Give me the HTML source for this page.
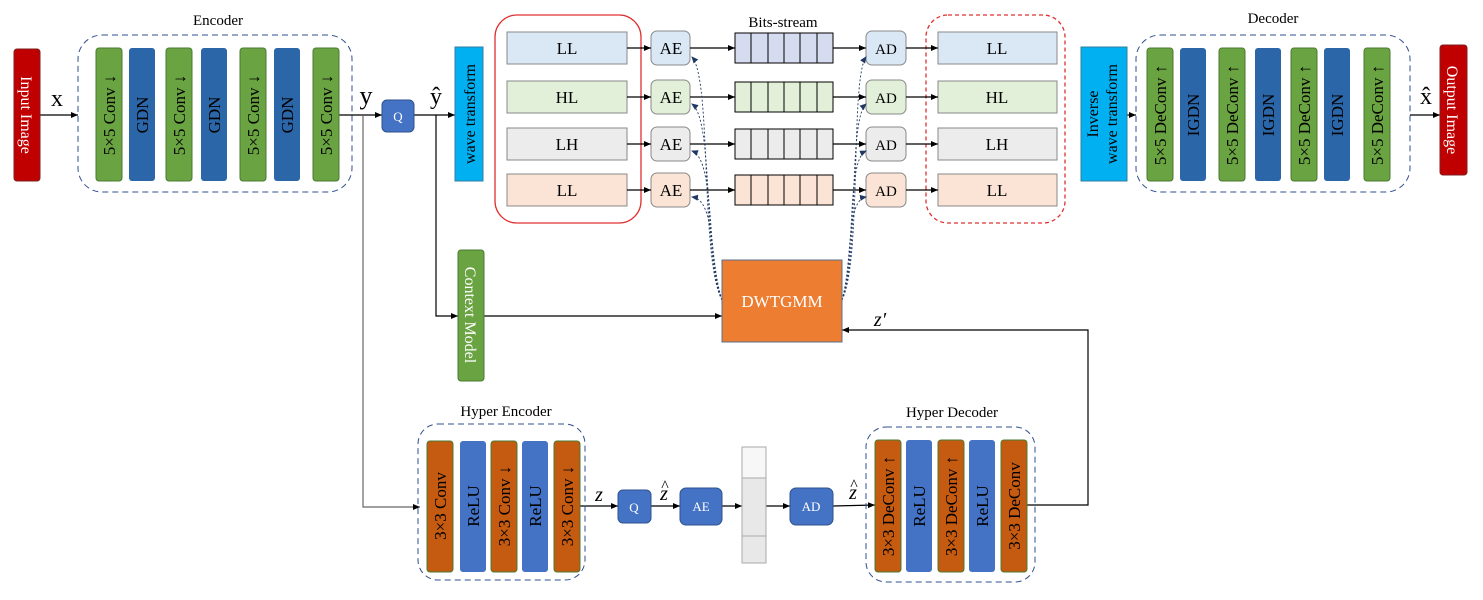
<!DOCTYPE html>
<html><head><meta charset="utf-8"><style>body{margin:0;background:#fff}svg{display:block}text{font-family:"Liberation Serif",serif}</style></head><body>
<svg width="1483" height="600" viewBox="0 0 1483 600" xmlns="http://www.w3.org/2000/svg">
<defs><marker id="a" markerWidth="8" markerHeight="8" refX="7" refY="4" orient="auto" markerUnits="userSpaceOnUse"><path d="M0,1 L7,4 L0,7 z" fill="#000"/></marker>
<marker id="b" markerWidth="8" markerHeight="8" refX="6" refY="4" orient="auto" markerUnits="userSpaceOnUse"><path d="M0,1 L7,4 L0,7 z" fill="#1f3864"/></marker></defs>
<g stroke="#000" stroke-width="1.2" fill="none">
<line x1="40" y1="115" x2="78" y2="115" marker-end="url(#a)"/>
<line x1="339" y1="115" x2="382" y2="115" marker-end="url(#a)"/>
<line x1="414" y1="115" x2="455" y2="115" marker-end="url(#a)"/>
<polyline points="363,115 363,507 420,507" stroke="#666" marker-end="url(#a)"/>
<polyline points="436,115 436,316 458,316" marker-end="url(#a)"/>
<line x1="484" y1="316" x2="722" y2="316" marker-end="url(#a)"/>
<polyline points="1027,505 1088,505 1088,330 842,330" marker-end="url(#a)"/>
<line x1="1127" y1="115" x2="1136" y2="115" marker-end="url(#a)"/>
<line x1="1410" y1="115" x2="1440" y2="115" marker-end="url(#a)"/>
<line x1="580" y1="506" x2="618" y2="506" marker-end="url(#a)"/>
<line x1="651" y1="506" x2="680" y2="506" marker-end="url(#a)"/>
<line x1="722" y1="506" x2="742" y2="506" marker-end="url(#a)"/>
<line x1="766" y1="506" x2="790" y2="506" marker-end="url(#a)"/>
<line x1="833" y1="506" x2="875" y2="505" marker-end="url(#a)"/>
</g>
<rect x="14" y="49" width="26" height="132" rx="3" fill="#c00000" stroke="#7f2020"/>
<text transform="translate(21,115) rotate(90)" text-anchor="middle" font-size="16" fill="#fff">Input Image</text>
<text x="57" y="106" font-size="24" text-anchor="middle">x</text>
<rect x="78" y="35" width="274" height="157" rx="24" fill="none" stroke="#2f4f8f" stroke-dasharray="6,4"/>
<text x="218" y="25" font-size="15" text-anchor="middle">Encoder</text>
<g font-size="17" text-anchor="middle">
<rect x="96" y="48" width="26" height="133" rx="3" fill="#6aa341" stroke="#4a7a30"/><text transform="translate(115,115) rotate(-90)">5×5 Conv ↓</text>
<rect x="129" y="48" width="26" height="133" rx="3" fill="#2b66a8"/><text transform="translate(148,115) rotate(-90)">GDN</text>
<rect x="166" y="48" width="26" height="133" rx="3" fill="#6aa341" stroke="#4a7a30"/><text transform="translate(185,115) rotate(-90)">5×5 Conv ↓</text>
<rect x="201" y="48" width="26" height="133" rx="3" fill="#2b66a8"/><text transform="translate(220,115) rotate(-90)">GDN</text>
<rect x="240" y="48" width="26" height="133" rx="3" fill="#6aa341" stroke="#4a7a30"/><text transform="translate(259,115) rotate(-90)">5×5 Conv ↓</text>
<rect x="274" y="48" width="26" height="133" rx="3" fill="#2b66a8"/><text transform="translate(293,115) rotate(-90)">GDN</text>
<rect x="313" y="48" width="26" height="133" rx="3" fill="#6aa341" stroke="#4a7a30"/><text transform="translate(332,115) rotate(-90)">5×5 Conv ↓</text>
</g>
<text x="366" y="104" font-size="26" text-anchor="middle">y</text>
<rect x="382" y="100" width="32" height="32" rx="5" fill="#4472c4" stroke="#2f528f"/><text x="398" y="121" font-size="13" fill="#fff" text-anchor="middle">Q</text>
<text x="436" y="104" font-size="24" text-anchor="middle">ŷ</text>
<rect x="455" y="47" width="28" height="134" fill="#00b0f0" stroke="#2f7fa0"/><text transform="translate(475,114) rotate(-90)" font-size="16" text-anchor="middle">wave transform</text>
<rect x="495" y="15" width="146" height="208" rx="22" fill="none" stroke="#e03030" stroke-width="1.3"/>
<rect x="926" y="15" width="139" height="208" rx="22" fill="none" stroke="#e03030" stroke-width="1.3" stroke-dasharray="4,3"/>
<text x="783" y="27" font-size="15" text-anchor="middle">Bits-stream</text>
<g font-size="17" text-anchor="middle" stroke-width="1">
<g><rect x="507" y="32" width="120" height="32" fill="#dae8f6" stroke="#888"/><text x="567" y="54">LL</text>
<rect x="651" y="31" width="39" height="34" rx="6" fill="#dae8f6" stroke="#888"/><text x="671" y="54">AE</text>
<rect x="735" y="33" width="98" height="30" fill="#d5dcef" stroke="#000"/>
<rect x="866" y="31" width="40" height="34" rx="6" fill="#dae8f6" stroke="#888"/><text x="886" y="54" font-size="15">AD</text>
<rect x="938" y="32" width="119" height="32" fill="#dae8f6" stroke="#888"/><text x="997" y="54">LL</text></g>
<g><rect x="507" y="81" width="120" height="32" fill="#e2f0d9" stroke="#888"/><text x="567" y="103">HL</text>
<rect x="651" y="80" width="39" height="34" rx="6" fill="#e2f0d9" stroke="#888"/><text x="671" y="103">AE</text>
<rect x="735" y="82" width="98" height="30" fill="#e2f0d9" stroke="#000"/>
<rect x="866" y="80" width="40" height="34" rx="6" fill="#e2f0d9" stroke="#888"/><text x="886" y="103" font-size="15">AD</text>
<rect x="938" y="81" width="119" height="32" fill="#e2f0d9" stroke="#888"/><text x="997" y="103">HL</text></g>
<g><rect x="507" y="128" width="120" height="32" fill="#ececec" stroke="#888"/><text x="567" y="150">LH</text>
<rect x="651" y="127" width="39" height="34" rx="6" fill="#ececec" stroke="#888"/><text x="671" y="150">AE</text>
<rect x="735" y="129" width="98" height="30" fill="#ececec" stroke="#000"/>
<rect x="866" y="127" width="40" height="34" rx="6" fill="#ececec" stroke="#888"/><text x="886" y="150" font-size="15">AD</text>
<rect x="938" y="128" width="119" height="32" fill="#ececec" stroke="#888"/><text x="997" y="150">LH</text></g>
<g><rect x="507" y="174" width="120" height="32" fill="#fbe4d5" stroke="#888"/><text x="567" y="196">LL</text>
<rect x="651" y="173" width="39" height="34" rx="6" fill="#fbe4d5" stroke="#888"/><text x="671" y="196">AE</text>
<rect x="735" y="175" width="98" height="30" fill="#fbe4d5" stroke="#000"/>
<rect x="866" y="173" width="40" height="34" rx="6" fill="#fbe4d5" stroke="#888"/><text x="886" y="196" font-size="15">AD</text>
<rect x="938" y="174" width="119" height="32" fill="#fbe4d5" stroke="#888"/><text x="997" y="196">LL</text></g>
</g>
<g stroke="#000" stroke-width="1">
<path d="M751,33V63M768,33V63M784,33V63M800,33V63M817,33V63M751,82V112M768,82V112M784,82V112M800,82V112M817,82V112M751,129V159M768,129V159M784,129V159M800,129V159M817,129V159M751,175V205M768,175V205M784,175V205M800,175V205M817,175V205"/>
</g>
<g stroke="#000" stroke-width="1.2" fill="none">
<line x1="627" y1="48" x2="651" y2="48" marker-end="url(#a)"/><line x1="627" y1="97" x2="651" y2="97" marker-end="url(#a)"/><line x1="627" y1="144" x2="651" y2="144" marker-end="url(#a)"/><line x1="627" y1="190" x2="651" y2="190" marker-end="url(#a)"/>
<line x1="690" y1="48" x2="735" y2="48" marker-end="url(#a)"/><line x1="690" y1="97" x2="735" y2="97" marker-end="url(#a)"/><line x1="690" y1="144" x2="735" y2="144" marker-end="url(#a)"/><line x1="690" y1="190" x2="735" y2="190" marker-end="url(#a)"/>
<line x1="833" y1="48" x2="866" y2="48" marker-end="url(#a)"/><line x1="833" y1="97" x2="866" y2="97" marker-end="url(#a)"/><line x1="833" y1="144" x2="866" y2="144" marker-end="url(#a)"/><line x1="833" y1="190" x2="866" y2="190" marker-end="url(#a)"/>
<line x1="906" y1="48" x2="938" y2="48" marker-end="url(#a)"/><line x1="906" y1="97" x2="938" y2="97" marker-end="url(#a)"/><line x1="906" y1="144" x2="938" y2="144" marker-end="url(#a)"/><line x1="906" y1="190" x2="938" y2="190" marker-end="url(#a)"/>
</g>
<g stroke="#1f3864" stroke-width="0.9" fill="none" stroke-dasharray="2,2">
<path d="M722,300 C700,260 712,80 692,57" marker-end="url(#b)"/>
<path d="M722,300 C703,260 714,120 692,104" marker-end="url(#b)"/>
<path d="M722,300 C706,260 716,160 692,151" marker-end="url(#b)"/>
<path d="M722,300 C709,260 716,200 692,197" marker-end="url(#b)"/>
<path d="M842,300 C862,260 850,80 866,57" marker-end="url(#b)"/>
<path d="M842,300 C859,260 848,120 866,104" marker-end="url(#b)"/>
<path d="M842,300 C856,260 846,160 866,151" marker-end="url(#b)"/>
<path d="M842,300 C853,260 846,200 866,197" marker-end="url(#b)"/>
</g>
<rect x="722" y="260" width="120" height="82" fill="#ed7d31" stroke="#5a6f8f"/><text x="782" y="307" font-size="17" fill="#fff" text-anchor="middle">DWTGMM</text>
<text x="880" y="326" font-size="20" font-style="italic" text-anchor="middle">z′</text>
<rect x="458" y="250" width="26" height="131" rx="3" fill="#6aa341" stroke="#4a7a30"/><text transform="translate(465,315) rotate(90)" font-size="16" fill="#fff" text-anchor="middle">Context Model</text>
<rect x="1081" y="47" width="46" height="134" fill="#00b0f0" stroke="#2f7fa0"/>
<text transform="translate(1098,114) rotate(-90)" font-size="16" text-anchor="middle">Inverse</text>
<text transform="translate(1117,114) rotate(-90)" font-size="16" text-anchor="middle">wave transform</text>
<rect x="1136" y="35" width="274" height="157" rx="24" fill="none" stroke="#2f4f8f" stroke-dasharray="6,4"/>
<text x="1273" y="23" font-size="15" text-anchor="middle">Decoder</text>
<g font-size="17" text-anchor="middle">
<rect x="1147" y="48" width="26" height="133" rx="3" fill="#6aa341" stroke="#4a7a30"/><text transform="translate(1166,115) rotate(-90)">5×5 DeConv ↑</text>
<rect x="1180" y="48" width="26" height="133" rx="3" fill="#2b66a8"/><text transform="translate(1199,115) rotate(-90)">IGDN</text>
<rect x="1219" y="48" width="26" height="133" rx="3" fill="#6aa341" stroke="#4a7a30"/><text transform="translate(1238,115) rotate(-90)">5×5 DeConv ↑</text>
<rect x="1255" y="48" width="26" height="133" rx="3" fill="#2b66a8"/><text transform="translate(1274,115) rotate(-90)">IGDN</text>
<rect x="1291" y="48" width="26" height="133" rx="3" fill="#6aa341" stroke="#4a7a30"/><text transform="translate(1310,115) rotate(-90)">5×5 DeConv ↑</text>
<rect x="1324" y="48" width="26" height="133" rx="3" fill="#2b66a8"/><text transform="translate(1343,115) rotate(-90)">IGDN</text>
<rect x="1364" y="48" width="26" height="133" rx="3" fill="#6aa341" stroke="#4a7a30"/><text transform="translate(1383,115) rotate(-90)">5×5 DeConv ↑</text>
</g>
<text x="1426" y="104" font-size="24" text-anchor="middle">x̂</text>
<rect x="1440" y="45" width="27" height="130" rx="3" fill="#c00000" stroke="#7f2020"/><text transform="translate(1447,110) rotate(90)" font-size="16" fill="#fff" text-anchor="middle">Output Image</text>
<text x="506" y="416" font-size="15" text-anchor="middle">Hyper Encoder</text>
<rect x="418" y="424" width="167" height="156" rx="20" fill="none" stroke="#2f4f8f" stroke-dasharray="6,4"/>
<g font-size="17" text-anchor="middle">
<rect x="427" y="441" width="26" height="131" rx="3" fill="#c55a11" stroke="#4a7a30"/><text transform="translate(446,506) rotate(-90)">3×3 Conv</text>
<rect x="460" y="441" width="26" height="131" rx="3" fill="#4472c4"/><text transform="translate(479,506) rotate(-90)">ReLU</text>
<rect x="491" y="441" width="26" height="131" rx="3" fill="#c55a11" stroke="#4a7a30"/><text transform="translate(510,506) rotate(-90)">3×3 Conv ↓</text>
<rect x="522" y="441" width="26" height="131" rx="3" fill="#4472c4"/><text transform="translate(541,506) rotate(-90)">ReLU</text>
<rect x="554" y="441" width="26" height="131" rx="3" fill="#c55a11" stroke="#4a7a30"/><text transform="translate(573,506) rotate(-90)">3×3 Conv ↓</text>
</g>
<text x="599" y="501" font-size="20" font-style="italic" text-anchor="middle">z</text>
<rect x="618" y="490" width="33" height="33" rx="5" fill="#4472c4" stroke="#2f528f"/><text x="634" y="512" font-size="13" fill="#fff" text-anchor="middle">Q</text>
<text x="664" y="500" font-size="20" font-style="italic" text-anchor="middle">z</text><text x="665" y="491" font-size="16" text-anchor="middle">^</text>
<rect x="680" y="488" width="42" height="37" rx="6" fill="#4472c4" stroke="#2f528f"/><text x="701" y="511" font-size="13" fill="#fff" text-anchor="middle">AE</text>
<rect x="742" y="447" width="24" height="116" fill="#f7f7f7" stroke="#aaa"/>
<rect x="742" y="478" width="24" height="58" fill="#e8e8e8" stroke="#aaa"/>
<rect x="742" y="536" width="24" height="27" fill="#e8e8e8" stroke="#aaa"/>
<rect x="790" y="488" width="43" height="37" rx="6" fill="#4472c4" stroke="#2f528f"/><text x="811" y="511" font-size="13" fill="#fff" text-anchor="middle">AD</text>
<text x="853" y="499" font-size="20" font-style="italic" text-anchor="middle">z</text><text x="854" y="490" font-size="16" text-anchor="middle">^</text>
<text x="952" y="417" font-size="15" text-anchor="middle">Hyper Decoder</text>
<rect x="866" y="427" width="169" height="155" rx="20" fill="none" stroke="#2f4f8f" stroke-dasharray="6,4"/>
<g font-size="17" text-anchor="middle">
<rect x="875" y="440" width="26" height="132" rx="3" fill="#c55a11" stroke="#4a7a30"/><text transform="translate(894,506) rotate(-90)">3×3 DeConv ↑</text>
<rect x="906" y="440" width="26" height="132" rx="3" fill="#4472c4"/><text transform="translate(925,506) rotate(-90)">ReLU</text>
<rect x="938" y="440" width="26" height="132" rx="3" fill="#c55a11" stroke="#4a7a30"/><text transform="translate(957,506) rotate(-90)">3×3 DeConv ↑</text>
<rect x="969" y="440" width="26" height="132" rx="3" fill="#4472c4"/><text transform="translate(988,506) rotate(-90)">ReLU</text>
<rect x="1001" y="440" width="26" height="132" rx="3" fill="#c55a11" stroke="#4a7a30"/><text transform="translate(1020,506) rotate(-90)">3×3 DeConv</text>
</g>
</svg>
</body></html>
